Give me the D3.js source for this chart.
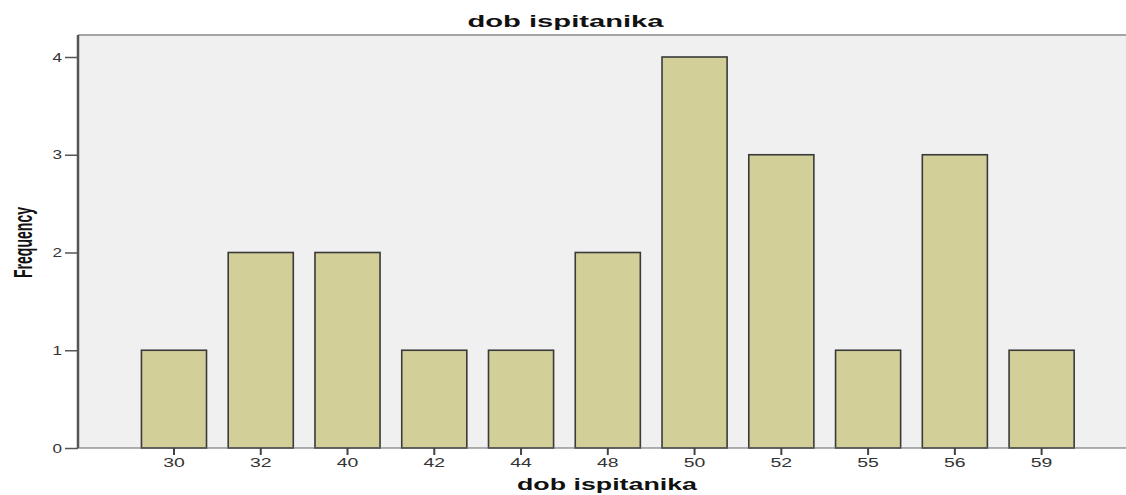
<!DOCTYPE html>
<html><head><meta charset="utf-8">
<script src="https://cdn.jsdelivr.net/npm/d3@7"></script>
<style>body{margin:0;background:#fff}</style>
</head><body><svg id="c" width="1126" height="495"></svg>
<script>
const categories = ["30","32","40","42","44","48","50","52","55","56","59"];
const frequencies = [1,2,2,1,1,2,4,3,1,3,1];
const yTicks = [0,1,2,3,4];

const svg = d3.select("#c");
const plot = {left:78, top:35, right:1126, bottom:448};
const FONT = "Liberation Sans, Arial, sans-serif";

svg.append("rect").attr("x",plot.left).attr("y",plot.top)
  .attr("width",plot.right-plot.left).attr("height",plot.bottom-plot.top)
  .attr("fill","#f0f0f0");
svg.append("line").attr("x1",plot.left).attr("x2",plot.right).attr("y1",plot.top).attr("y2",plot.top)
  .attr("stroke","#888").attr("stroke-width",1.5);

const x = d3.scaleBand().domain(categories).range([130.6,1085]).paddingInner(0.25).paddingOuter(0.125);
const y = d3.scaleLinear().domain([0,4]).range([plot.bottom, 57]);

svg.append("g").selectAll("rect").data(categories).join("rect")
  .attr("x",d=>x(d)).attr("width",x.bandwidth())
  .attr("y",(d,i)=>y(frequencies[i])).attr("height",(d,i)=>y(0)-y(frequencies[i]))
  .attr("fill","#d3cf98").attr("stroke","#3a3a3a").attr("stroke-width",1.6);

const yAxis = svg.append("g").attr("transform",`translate(${plot.left},0)`)
  .call(d3.axisLeft(y).tickValues(yTicks).tickFormat(d3.format("d")).tickSize(13).tickPadding(3));
yAxis.select(".domain").attr("d",`M0,${plot.top}V${plot.bottom}`).attr("stroke","#555").attr("stroke-width",2.5);
yAxis.selectAll(".tick line").attr("stroke","#555").attr("stroke-width",1.5);
yAxis.selectAll("text").attr("font-family",FONT).attr("font-size",12.5).attr("fill","#333")
  .attr("textLength",d=>String(d).length*9.5).attr("lengthAdjust","spacingAndGlyphs");

const xAxis = svg.append("g").attr("transform",`translate(0,${plot.bottom})`)
  .call(d3.axisBottom(x).tickSize(7).tickPadding(3));
xAxis.select(".domain").attr("d",`M${plot.left},0H${plot.right}`).attr("stroke","#666").attr("stroke-width",1.2);
xAxis.selectAll(".tick line").attr("stroke","#444").attr("stroke-width",2);
xAxis.selectAll("text").attr("font-family",FONT).attr("font-size",12.5).attr("fill","#333")
  .attr("textLength",d=>String(d).length*10.8).attr("lengthAdjust","spacingAndGlyphs");

svg.append("text").attr("x",565.5).attr("y",27).attr("text-anchor","middle")
  .attr("font-family",FONT).attr("font-weight","bold").attr("font-size",16).attr("fill","#111")
  .attr("textLength",196).attr("lengthAdjust","spacingAndGlyphs")
  .text("dob ispitanika");
svg.append("text").attr("x",607).attr("y",490).attr("text-anchor","middle")
  .attr("font-family",FONT).attr("font-weight","bold").attr("font-size",16).attr("fill","#111")
  .attr("textLength",180).attr("lengthAdjust","spacingAndGlyphs")
  .text("dob ispitanika");
svg.append("text").attr("transform","translate(32,242.5) rotate(-90)").attr("text-anchor","middle")
  .attr("font-family",FONT).attr("font-weight","bold").attr("font-size",26).attr("fill","#111")
  .attr("textLength",71).attr("lengthAdjust","spacingAndGlyphs")
  .text("Frequency");
</script></body></html>
